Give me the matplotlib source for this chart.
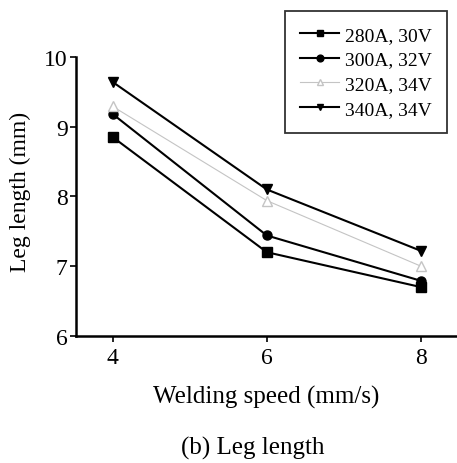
import matplotlib
matplotlib.use("Agg")
import matplotlib.pyplot as plt

speeds = [4, 6, 8]
labels = ["280A, 30V", "300A, 32V", "320A, 34V", "340A, 34V"]
s280 = [8.85, 7.20, 6.70]
s300 = [9.18, 7.44, 6.79]
s320 = [9.29, 7.94, 7.00]
s340 = [9.64, 8.10, 7.22]
yticks = [6, 7, 8, 9, 10]

plt.rcParams['font.family'] = ['Liberation Serif', 'DejaVu Serif']

fig = plt.figure(figsize=(4.57, 4.64), dpi=100)
ax = fig.add_axes([0.166, 0.274, 0.834, 0.601])

ax.plot(speeds, s280, color='black', lw=1.5, marker='s', ms=6.5, label=labels[0])
ax.plot(speeds, s300, color='black', lw=1.5, marker='o', ms=6.5, label=labels[1])
ax.plot(speeds, s320, color='#c4c4c4', lw=0.8, marker='^', ms=6.5, mfc='white', mec='#c4c4c4', label=labels[2])
ax.plot(speeds, s340, color='black', lw=1.5, marker='v', ms=6.5, label=labels[3])

ax.set_xlim(3.52, 8.47)
ax.set_ylim(6, 10)
ax.set_xticks(speeds)
ax.set_yticks(yticks)
ax.tick_params(direction='out', length=4, width=1.2, labelsize=17, pad=4)
ax.tick_params(axis='y', pad=2)
ax.spines['top'].set_visible(False)
ax.spines['right'].set_visible(False)
ax.spines['left'].set_linewidth(1.8)
ax.spines['bottom'].set_linewidth(1.8)

ax.set_xlabel("Welding speed (mm/s)", fontsize=18, labelpad=12)
ax.set_ylabel("Leg length (mm)", fontsize=17)
ax.yaxis.set_label_coords(-0.117, 0.52)

leg = fig.legend(loc='upper right', bbox_to_anchor=(0.979, 0.975), fontsize=14,
                 frameon=True, fancybox=False, edgecolor='black', handlelength=2.0,
                 handletextpad=0.3, borderpad=0.8, labelspacing=0.36, markerscale=0.75,
                 borderaxespad=0)
leg.get_frame().set_linewidth(1.3)

fig.text(0.553, 1 - 448 / 464, "(b) Leg length", ha='center', va='center', fontsize=18)

fig.savefig("out.png", dpi=100)
